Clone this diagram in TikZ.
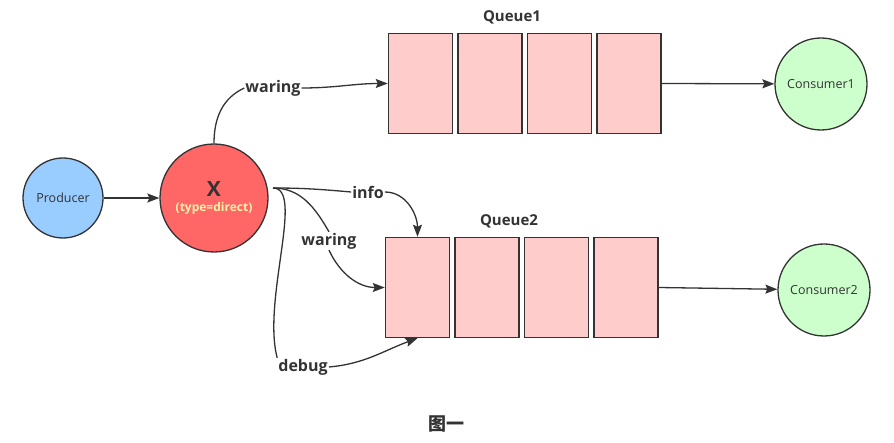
\documentclass[tikz,border=0pt]{standalone}
\usepackage{fontspec}
\setmainfont{Open Sans}
\newfontfamily\cjk{Noto Sans CJK SC}
\usetikzlibrary{positioning,arrows.meta,shapes}
\definecolor{linegray}{HTML}{333333}
\definecolor{qpink}{HTML}{FFCCCC}
\definecolor{pblue}{HTML}{99CCFF}
\definecolor{xred}{HTML}{FF6666}
\definecolor{cgreen}{HTML}{CCFFCC}
\definecolor{xtext}{HTML}{F2F5A9}
\tikzset{
>={Stealth[length=12pt,width=9pt,inset=2pt]},
  actor/.style={
    circle,
    draw=linegray, line width=1.3pt,
    text=linegray,
    font=\fontsize{12.5}{14}\selectfont},
  cell/.style={
    rectangle,
    draw=linegray, line width=1.5pt,
    fill=qpink,
    minimum width=64pt,
    minimum height=100pt,
    inner sep=0pt},
  line/.style={draw=linegray, line width=1.3pt},
  arrow/.style={line, ->},
  key/.style={text=linegray, font=\fontsize{16}{18}\selectfont\bfseries, inner sep=1pt},
  qname/.style={text=linegray, font=\fontsize{15}{17}\selectfont\bfseries},
}
\begin{document}
\begin{tikzpicture}[x=1pt,y=-1pt]
  \useasboundingbox (0,0) rectangle (894,443);
  % producer and exchange
  \node[actor, fill=pblue, minimum size=80pt] (prod) at (63,198) {Producer};
  \node[actor, fill=xred, minimum size=108pt] (x) at (214,198) {};
  \node[text=linegray, font=\fontsize{21}{21}\selectfont\bfseries, inner sep=0pt] (xname) at (214,189) {X};
  \node[text=xtext, font=\fontsize{12}{12}\selectfont\bfseries, inner sep=0pt] (xtype) at (214,208) {(type=direct)};
  \draw[arrow] (prod) -- (x);

  % queue 1
  \node[cell] (q1a) at (420.5,83.5) {};
  \node[cell, right=4pt of q1a] (q1b) {};
  \node[cell, right=4pt of q1b] (q1c) {};
  \node[cell, right=4pt of q1c] (q1d) {};
  \node[qname] (q1name) at (512,17) {Queue1};

  % queue 2
  \node[cell] (q2a) at (417.5,287.5) {};
  \node[cell, right=4pt of q2a] (q2b) {};
  \node[cell, right=4pt of q2b] (q2c) {};
  \node[cell, right=4pt of q2c] (q2d) {};
  \node[qname] (q2name) at (509,221) {Queue2};

  % consumers
  \node[actor, fill=cgreen, minimum size=92pt] (con1) at (821,84) {Consumer1};
  \node[actor, fill=cgreen, minimum size=92pt] (con2) at (824,290) {Consumer2};
  \draw[arrow] (q1d.east) -- (con1);
  \draw[arrow] (q2d.east) -- (con2);

  % routing keys
  \node[key] (wtop) at (273,88) {waring};
  \node[key] (info) at (368,192) {info};
  \node[key] (wlow) at (329,241) {waring};
  \node[key] (debug) at (303,367) {debug};
  \coordinate (xo) at (273,188);

  \draw[line] (x.north) to[out=90,in=205] (wtop.west);
  \draw[arrow] (wtop.east) to[out=0,in=180] (q1a.west);

  \draw[line] (xo) to[out=0,in=175] (info.west);
  \draw[arrow] (info.east) to[out=0,in=90] (q2a.north);

  \draw[line] (xo) to[out=0,in=120] (wlow.north);
  \draw[arrow] (wlow.south) to[out=-65,in=180] (q2a.west);

  \draw[line] (xo) .. controls (305,188) and (262,300) .. (debug.north west);
  \draw[arrow] (debug.east) to[out=5,in=200] (q2a.south);

  \node[text=linegray, font=\cjk\fontsize{18}{20}\selectfont\bfseries] (cap) at (446,424) {图一};
\end{tikzpicture}
\end{document}
